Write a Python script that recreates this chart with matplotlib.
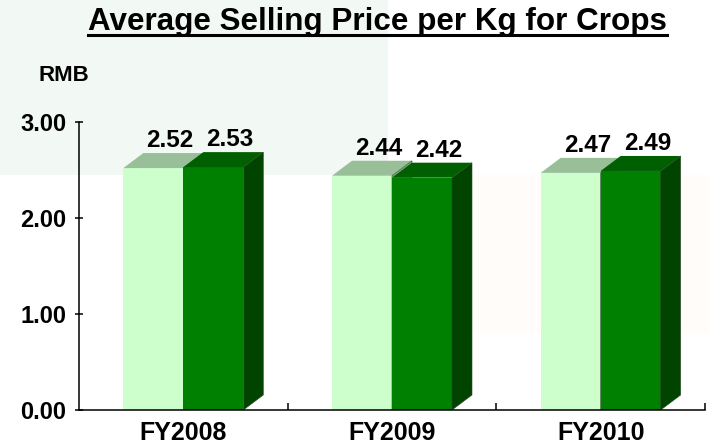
import matplotlib
matplotlib.use('Agg')
import matplotlib.pyplot as plt
from matplotlib.patches import Polygon, Rectangle
from matplotlib.lines import Line2D

# ---- data ----
categories = ['FY2008', 'FY2009', 'FY2010']
series_light = [2.52, 2.44, 2.47]
series_dark = [2.53, 2.42, 2.49]
ytick_values = [0, 1, 2, 3]
ytick_labels = ['0.00', '1.00', '2.00', '3.00']
title_text = 'Average Selling Price per Kg for Crops'
unit_text = 'RMB'

plt.rcParams['font.family'] = ['Liberation Sans', 'DejaVu Sans']

W, H = 708, 448
fig = plt.figure(figsize=(W / 100, H / 100), dpi=100)
fig.patch.set_facecolor('white')

# faint background panels (in a background axes)
bg = fig.add_axes([0, 0, 1, 1], zorder=-10)
bg.set_xlim(0, W)
bg.set_ylim(H, 0)
bg.axis('off')
bg.add_patch(Rectangle((0, 0), 388, 175, facecolor='#F2F8F4', edgecolor='none'))
bg.add_patch(Rectangle((388, 175), W - 388, 333 - 175, facecolor='#FFFCFA', edgecolor='none'))

ax_l, ax_r, ax_b, ax_t = 79, 705, 410, 122
ax = fig.add_axes([ax_l / W, (H - ax_b) / H, (ax_r - ax_l) / W, (ax_b - ax_t) / H], zorder=1)
ax.set_facecolor('none')
ax.set_xlim(-0.5, len(categories) - 0.5)
ax.set_ylim(0, 3)

px_x = (ax_r - ax_l) / len(categories)   # pixels per x unit
px_y = (ax_b - ax_t) / 3.0               # pixels per y unit
bw = 60 / px_x
dx = 20 / px_x
dy = 15 / px_y

def bar3d(x0, v, front, top, side, z):
    ax.add_patch(Rectangle((x0, 0), bw, v, facecolor=front, edgecolor='none', zorder=z))
    ax.add_patch(Polygon([(x0, v), (x0 + bw, v), (x0 + bw + dx, v + dy), (x0 + dx, v + dy)],
                         closed=True, facecolor=top, edgecolor='none', zorder=z))
    ax.add_patch(Polygon([(x0 + bw, 0), (x0 + bw + dx, dy), (x0 + bw + dx, v + dy), (x0 + bw, v)],
                         closed=True, facecolor=side, edgecolor='#2a4a2a', linewidth=0.4, zorder=z))

for i, (a, b) in enumerate(zip(series_light, series_dark)):
    bar3d(i - bw, a, '#CCFFCC', '#99BF99', '#7FA57F', 3 + 2 * i)
    bar3d(i, b, '#008000', '#005F00', '#004400', 4 + 2 * i)
    for x0, v in ((i - bw, a), (i, b)):
        ax.annotate(f'{v:.2f}', xy=(x0 + bw / 2 + 0.08, v + dy), xytext=(0, 6 * 0.72),
                    textcoords='offset points', ha='center', va='baseline',
                    fontsize=17.5, fontweight='bold', annotation_clip=False, zorder=20)

for s in ('top', 'right'):
    ax.spines[s].set_visible(False)
for s in ('left', 'bottom'):
    ax.spines[s].set_linewidth(1.1)
    ax.spines[s].set_color('black')
    ax.spines[s].set_zorder(30)

ax.set_yticks(ytick_values)
ax.set_yticklabels(ytick_labels, fontsize=17, fontweight='bold')
ax.tick_params(axis='y', direction='inout', length=6, width=1.1, pad=6)

ax.set_xticks(range(len(categories)))
ax.set_xticklabels(categories, fontsize=18, fontweight='bold')
ax.set_xticks([i + 0.5 for i in range(len(categories))], minor=True)
ax.tick_params(axis='x', which='major', length=0, pad=8)
ax.tick_params(axis='x', which='minor', direction='in', length=5, width=1.1)

fig.text(39 / W, 1 - 81 / H, unit_text, fontsize=16, fontweight='bold', ha='left', va='baseline')

t = fig.text(377.5 / W, 1 - 30 / H, title_text, fontsize=22.6, fontweight='bold',
             ha='center', va='baseline')
fig.canvas.draw()
bb = t.get_window_extent()
uy = 1 - 35 / H
fig.lines.append(Line2D([bb.x0 / W, bb.x1 / W], [uy, uy], transform=fig.transFigure,
                        color='black', linewidth=2.2))

fig.savefig('out.png', dpi=100)
